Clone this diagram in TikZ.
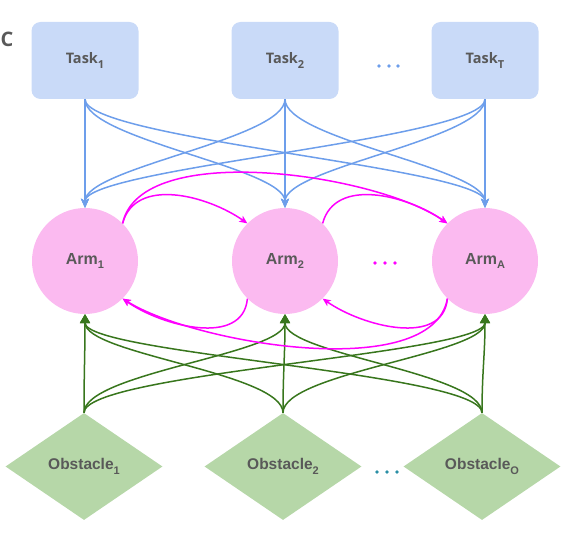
\documentclass[tikz,border=0pt]{standalone}
\usepackage{fontspec}
\setmainfont{Liberation Sans}
\newfontfamily\taskfont{Open Sans}
\usepackage{tikz}
\usetikzlibrary{positioning}
\usetikzlibrary{arrows.meta,shapes.geometric}

\definecolor{TaskFill}{HTML}{C9DAF8}
\definecolor{TaskLine}{HTML}{6D9EEB}
\definecolor{ArmFill}{HTML}{FBBAF0}
\definecolor{ArmLine}{HTML}{FF00FF}
\definecolor{ObstFill}{HTML}{B6D7A8}
\definecolor{ObstLine}{HTML}{38761D}
\definecolor{ObstDots}{HTML}{2A8FA6}
\definecolor{LabelGray}{HTML}{595959}

% lowered subscript, a bit larger than \textsubscript
\newcommand{\lowsub}[1]{\raisebox{-0.28em}{\fontsize{11}{11}\selectfont #1}}

\tikzset{
	taskbox/.style={rectangle, rounded corners=9pt, fill=TaskFill, minimum width=107pt, minimum height=77pt, inner sep=0pt, text=LabelGray, font=\taskfont\bfseries\fontsize{14.5}{17}\selectfont},
	armbox/.style={circle, fill=ArmFill, minimum size=106pt, inner sep=0pt, text=LabelGray, font=\bfseries\fontsize{16}{19}\selectfont},
	obstbox/.style={diamond, aspect=1.47, fill=ObstFill, minimum width=157pt, minimum height=107pt, inner sep=0pt, text=LabelGray, font=\bfseries\fontsize{15.5}{18}\selectfont},
	taskarrow/.style={draw=TaskLine, line width=1.5pt, -{Stealth[length=9pt,width=8pt,inset=2pt]}},
	armarrow/.style={draw=ArmLine, line width=1.5pt, -{Stealth[length=8pt,width=7pt,inset=2pt]}},
	obstarrow/.style={draw=ObstLine, line width=1.5pt, -{Triangle[length=9pt,width=10pt]}},
}

\begin{document}
\begin{tikzpicture}[x=1pt,y=1pt]
		
		% ---------------------
		% Proper size --- Bounding box
		\useasboundingbox (0,0) rectangle (576,542);
		
		% ---------------------
		% Panel letter
		\node[anchor=west, inner sep=0pt, text=LabelGray, font=\taskfont\bfseries\fontsize{20}{22}\selectfont] (Panel) at (0.5,503) {C};
		
		% ---------------------
		% Tasks, arms & obstacles
		\foreach \i/\x/\s in {1/85/1, 2/285/2, 3/485/T}
			\node[taskbox] (Task\i) at (\x,481.5) {Task\lowsub{\s}};
		\foreach \i/\x/\s in {1/85/1, 2/285/2, 3/485/A}
			\node[armbox] (Arm\i) at (\x,281) {Arm\lowsub{\s}};
		\foreach \i/\x/\s in {1/84/1, 2/283/2, 3/482/O}
			\node[obstbox] (Obst\i) at (\x,75.5) {Obstacle\lowsub{\s}};
		
		% ---------------------
		% Dots between the columns
		\foreach \x in {379,389,398} \fill[TaskLine] (\x,476) circle (1.8);
		\foreach \x in {375,385,395} \fill[ArmLine] (\x,279) circle (1.8);
		\foreach \x in {377,387,397} \fill[ObstDots] (\x,70) circle (1.8);
		
		% ---------------------
		% Task -> Arm
		\foreach \i in {1,2,3}
			\foreach \j in {1,2,3}
				\draw[taskarrow] (Task\i.south) .. controls +(0,-40) and +(0,40) .. (Arm\j.north);
		
		% ---------------------
		% Obstacle -> Arm
		\foreach \i in {1,2,3}
			\foreach \j in {1,2,3}
				\draw[obstarrow] (Obst\i.north) .. controls +(0,40) and +(0,-40) .. (Arm\j.south);
		
		% ---------------------
		% Arm <-> Arm
		\draw[armarrow] (Arm1.45) to[out=75, in=145] (Arm2.135);
		\draw[armarrow] (Arm2.45) to[out=75, in=145] (Arm3.135);
		\draw[armarrow] (Arm1.45) to[out=78, in=145, looseness=0.68] (Arm3.135);
		\draw[armarrow] (Arm2.225) to[out=-95, in=-35] (Arm1.315);
		\draw[armarrow] (Arm3.225) to[out=-95, in=-35] (Arm2.315);
		\draw[armarrow] (Arm3.225) to[out=-100, in=-32, looseness=0.68] (Arm1.315);
		
\end{tikzpicture}
\end{document}
